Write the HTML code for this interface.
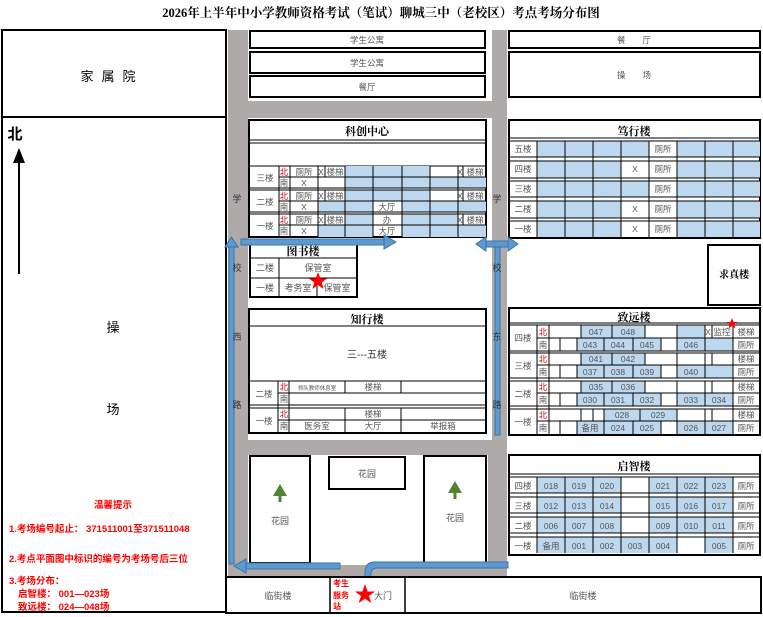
<!DOCTYPE html>
<html><head><meta charset="utf-8"><style>
body{margin:0;background:#fff}
svg{display:block}
text{font-family:"Liberation Sans","Noto Sans CJK SC",sans-serif}
.c{font-size:8.5px;fill:#555;text-anchor:middle}
.t{font-size:11px;font-weight:bold;fill:#000;text-anchor:middle;font-family:"Liberation Serif","Noto Serif CJK SC",serif}
.r{font-size:9.5px;fill:#f00;font-weight:bold}
.b{fill:#bdd7ee}
.ln{stroke:#000;stroke-width:1;fill:none}
.bx{stroke:#000;stroke-width:2;fill:#fff}
.ar{fill:#5b9bd5;stroke:#41719c;stroke-width:1}
</style></head><body>
<svg width="763" height="617" viewBox="0 0 763 617" xmlns="http://www.w3.org/2000/svg">
<rect width="763" height="617" fill="#fff"/>
<text x="381" y="17" class="t" style="font-size:12.5px">2026年上半年中小学教师资格考试（笔试）聊城三中（老校区）考点考场分布图</text>

<rect x="228" y="30" width="279" height="553" fill="#aeaaaa"/>
<rect x="248" y="30" width="244" height="71" fill="#fff"/>
<rect x="248" y="118" width="244" height="120" fill="#fff"/>
<rect x="248" y="238" width="244" height="202" fill="#fff"/>
<rect x="248" y="455" width="240" height="110" fill="#fff"/>

<rect x="2" y="30" width="224" height="582" fill="none" stroke="#000" stroke-width="2"/>
<line x1="2" y1="117" x2="226" y2="117" stroke="#000" stroke-width="2"/>
<text x="112" y="81" style="font-size:13px;text-anchor:middle;letter-spacing:8px">家属院</text>
<text x="15" y="139" style="font-size:15px;font-weight:bold;text-anchor:middle">北</text>
<line x1="19" y1="160" x2="19" y2="274" stroke="#000" stroke-width="2"/>
<polygon points="19,148 13,163 25,163" fill="#000"/>
<text x="113" y="332" style="font-size:13px;text-anchor:middle">操</text>
<text x="113" y="414" style="font-size:13px;text-anchor:middle">场</text>
<text x="113" y="508" class="r" text-anchor="middle">温馨提示</text>
<text x="9" y="532" class="r">1.考场编号起止：  371511001至371511048</text>
<text x="9" y="562" class="r">2.考点平面图中标识的编号为考场号后三位</text>
<text x="9" y="584" class="r">3.考场分布：</text>
<text x="18" y="597" class="r">启智楼： 001—023场</text>
<text x="18" y="610" class="r">致远楼： 024—048场</text>

<rect x="250" y="31" width="235" height="17" class="bx"/><text x="367" y="43" class="c">学生公寓</text>
<rect x="250" y="52" width="235" height="21" class="bx"/><text x="367" y="66" class="c">学生公寓</text>
<rect x="250" y="76" width="235" height="21" class="bx"/><text x="367" y="90" class="c">餐厅</text>
<rect x="509" y="31" width="251" height="17" class="bx"/><text x="634" y="43" class="c">餐　　厅</text>
<rect x="509" y="52" width="251" height="45" class="bx"/><text x="634" y="78" class="c">操　　场</text>

<g>
<rect x="249" y="120" width="237" height="117" class="bx"/>
<text x="367" y="135" class="t">科创中心</text>
<line x1="249" y1="140" x2="486" y2="140" class="ln"/><line x1="249" y1="143" x2="486" y2="143" class="ln"/>
<line x1="249" y1="166" x2="486" y2="166" class="ln"/>
<g class="b">
<rect x="345" y="166" width="85" height="11"/><rect x="345" y="177" width="141" height="11"/>
<rect x="345" y="190" width="85" height="11"/><rect x="318" y="201" width="55" height="11"/><rect x="402" y="201" width="84" height="11"/>
<rect x="345" y="214" width="28" height="11"/><rect x="402" y="214" width="56" height="11"/><rect x="318" y="225" width="55" height="12"/><rect x="402" y="225" width="84" height="12"/>
</g>
<g class="ln">
<line x1="249" y1="188" x2="486" y2="188"/><line x1="249" y1="190" x2="486" y2="190"/>
<line x1="249" y1="212" x2="486" y2="212"/><line x1="249" y1="214" x2="486" y2="214"/>
<line x1="279" y1="177" x2="486" y2="177"/><line x1="279" y1="201" x2="486" y2="201"/><line x1="279" y1="225" x2="486" y2="225"/>
<path d="M279 166V237M290 166V237M318 166V237M325 166V177M325 190V201M325 214V225M345 166V237M373 166V237M402 166V237M430 166V237M458 166V237M463 166V177M463 190V201M463 214V225"/>
</g>
<g class="c">
<text x="265" y="181">三楼</text><text x="265" y="205">二楼</text><text x="265" y="229">一楼</text>
<text x="284" y="175" fill="#c00">北</text><text x="284" y="186">南</text><text x="284" y="199" fill="#c00">北</text><text x="284" y="210">南</text><text x="284" y="223" fill="#c00">北</text><text x="284" y="234">南</text>
<text x="304" y="175">厕所</text><text x="321" y="175">X</text><text x="335" y="175">楼梯</text><text x="304" y="186">X</text><text x="460" y="175">X</text><text x="475" y="175">楼梯</text>
<text x="304" y="199">厕所</text><text x="321" y="199">X</text><text x="335" y="199">楼梯</text><text x="304" y="210">X</text><text x="460" y="199">X</text><text x="475" y="199">楼梯</text><text x="387" y="210">大厅</text>
<text x="304" y="223">厕所</text><text x="321" y="223">X</text><text x="335" y="223">楼梯</text><text x="304" y="234">X</text><text x="460" y="223">X</text><text x="475" y="223">楼梯</text><text x="387" y="223">办</text><text x="387" y="234">大厅</text>
</g>
</g>

<rect x="250" y="242" width="107" height="55" class="bx"/>
<text x="303" y="255" class="t">图书楼</text>
<g class="ln"><path d="M250 258H357M250 278H357M279 258V297M317 278V297"/></g>
<g class="c" style="font-size:9px"><text x="265" y="271">二楼</text><text x="265" y="291">一楼</text><text x="318" y="271">保管室</text><text x="298" y="291">考务室</text><text x="337" y="291">保管室</text></g>
<polygon points="318,272 320.4,278.5 327,278.5 321.7,282.5 323.6,289 318,285 312.4,289 314.3,282.5 309,278.5 315.6,278.5" fill="#f00"/>

<rect x="249" y="309" width="237" height="124" class="bx"/>
<text x="367" y="323" class="t">知行楼</text>
<line x1="249" y1="326" x2="486" y2="326" class="ln"/>
<text x="367" y="358" style="font-size:10px;fill:#333;text-anchor:middle">三---五楼</text>
<g class="ln"><path d="M249 381H486M278 393H486M249 405H486M249 408H486M278 420H486M278 381V432M289 381V432M345 381V393M401 381V393M345 408V432M401 408V432"/></g>
<g class="c"><text x="264" y="397">二楼</text><text x="264" y="424">一楼</text><text x="284" y="390" fill="#c00">北</text><text x="284" y="402">南</text><text x="284" y="417" fill="#c00">北</text><text x="284" y="429">南</text>
<text x="317" y="390" style="font-size:5.5px">领队教师休息室</text><text x="373" y="390">楼梯</text><text x="373" y="417">楼梯</text><text x="317" y="429">医务室</text><text x="373" y="429">大厅</text><text x="443" y="429">举报箱</text></g>

<rect x="509" y="120" width="251" height="118" class="bx"/>
<text x="634" y="135" class="t">笃行楼</text>
<g class="b">
<rect x="537" y="141" width="112" height="16"/><rect x="677" y="141" width="83" height="16"/>
<rect x="537" y="161" width="84" height="17"/><rect x="677" y="161" width="83" height="17"/>
<rect x="537" y="181" width="112" height="16"/><rect x="677" y="181" width="83" height="16"/>
<rect x="537" y="201" width="84" height="17"/><rect x="677" y="201" width="83" height="17"/>
<rect x="537" y="221" width="84" height="16"/><rect x="677" y="221" width="83" height="16"/>
</g>
<g class="ln"><path d="M509 138H760M509 141H760M509 157H760M509 161H760M509 178H760M509 181H760M509 197H760M509 201H760M509 218H760M509 221H760M537 141V237M565 141V237M593 141V237M621 141V237M649 141V237M677 141V237M705 141V237M733 141V237"/></g>
<g class="c"><text x="523" y="152">五楼</text><text x="523" y="172">四楼</text><text x="523" y="192">三楼</text><text x="523" y="212">二楼</text><text x="523" y="232">一楼</text>
<text x="663" y="152">厕所</text><text x="663" y="172">厕所</text><text x="663" y="192">厕所</text><text x="663" y="212">厕所</text><text x="663" y="232">厕所</text>
<text x="635" y="172">X</text><text x="635" y="212">X</text><text x="635" y="232">X</text></g>

<rect x="708" y="245" width="52" height="60" class="bx"/><text x="734" y="278" class="t" style="font-size:10px">求真楼</text>

<rect x="509" y="308" width="251" height="127" class="bx"/>
<text x="634" y="321" class="t">致远楼</text>
<g class="b">
<rect x="581" y="325" width="64" height="13"/><rect x="677" y="325" width="28" height="13"/><rect x="577" y="338" width="84" height="13"/><rect x="677" y="338" width="56" height="13"/>
<rect x="581" y="353" width="64" height="12"/><rect x="577" y="365" width="84" height="13"/><rect x="677" y="365" width="56" height="13"/>
<rect x="581" y="381" width="64" height="12"/><rect x="577" y="393" width="84" height="13"/><rect x="677" y="393" width="56" height="13"/>
<rect x="604" y="409" width="73" height="12"/><rect x="577" y="421" width="84" height="13"/><rect x="677" y="421" width="56" height="13"/>
</g>
<g class="ln"><path d="M509 323H760M509 325H760M537 338H760M509 351H760M509 353H760M537 365H760M509 378H760M509 381H760M537 393H760M509 406H760M509 409H760M537 421H760
M537 325V434M549 325V434M733 325V434
M581 325V338M612 325V338M645 325V338M677 325V338M705 325V338M712 325V338M560 338V351M577 338V351M604 338V351M633 338V351M661 338V351M677 338V351M705 338V351
M581 353V365M612 353V365M645 353V365M677 353V365M705 353V365M712 353V365M560 365V378M577 365V378M604 365V378M633 365V378M661 365V378M677 365V378M705 365V378
M581 381V393M612 381V393M645 381V393M677 381V393M705 381V393M712 381V393M560 393V406M577 393V406M604 393V406M633 393V406M661 393V406M677 393V406M705 393V406
M581 409V421M593 409V421M604 409V421M640 409V421M677 409V421M705 409V421M712 409V421M560 421V434M577 421V434M604 421V434M633 421V434M661 421V434M677 421V434M705 421V434"/></g>
<g class="c">
<text x="523" y="341">四楼</text><text x="523" y="369">三楼</text><text x="523" y="397">二楼</text><text x="523" y="425">一楼</text>
<text x="543" y="335" fill="#c00">北</text><text x="543" y="348">南</text><text x="543" y="362" fill="#c00">北</text><text x="543" y="375">南</text><text x="543" y="390" fill="#c00">北</text><text x="543" y="403">南</text><text x="543" y="418" fill="#c00">北</text><text x="543" y="431">南</text>
<text x="596" y="335">047</text><text x="628" y="335">048</text><text x="708" y="335">X</text><text x="722" y="335">监控</text><text x="746" y="335">楼梯</text>
<text x="590" y="348">043</text><text x="618" y="348">044</text><text x="647" y="348">045</text><text x="691" y="348">046</text><text x="746" y="348">厕所</text>
<text x="596" y="362">041</text><text x="628" y="362">042</text><text x="746" y="362">楼梯</text>
<text x="590" y="375">037</text><text x="618" y="375">038</text><text x="647" y="375">039</text><text x="691" y="375">040</text><text x="746" y="375">厕所</text>
<text x="596" y="390">035</text><text x="628" y="390">036</text><text x="746" y="390">楼梯</text>
<text x="590" y="403">030</text><text x="618" y="403">031</text><text x="647" y="403">032</text><text x="691" y="403">033</text><text x="719" y="403">034</text><text x="746" y="403">厕所</text>
<text x="622" y="418">028</text><text x="658" y="418">029</text><text x="746" y="418">楼梯</text>
<text x="590" y="431">备用</text><text x="618" y="431">024</text><text x="647" y="431">025</text><text x="691" y="431">026</text><text x="719" y="431">027</text><text x="746" y="431">厕所</text>
</g>
<polygon points="732,318 733.5,322 737.5,322 734.3,324.5 735.5,328.5 732,326 728.5,328.5 729.7,324.5 726.5,322 730.5,322" fill="#f00"/>

<rect x="509" y="455" width="251" height="100" class="bx"/>
<text x="634" y="470" class="t">启智楼</text>
<g class="b">
<rect x="537" y="477" width="84" height="16"/><rect x="649" y="477" width="84" height="16"/>
<rect x="537" y="497" width="84" height="16"/><rect x="649" y="497" width="84" height="16"/>
<rect x="537" y="517" width="84" height="16"/><rect x="649" y="517" width="84" height="16"/>
<rect x="537" y="537" width="140" height="16"/><rect x="705" y="537" width="28" height="16"/>
</g>
<g class="ln"><path d="M509 474H760M509 477H760M509 493H760M509 497H760M509 513H760M509 517H760M509 533H760M509 537H760M537 477V553M565 477V553M593 477V553M621 477V553M649 477V553M677 477V553M705 477V553M733 477V553"/></g>
<g class="c">
<text x="523" y="489">四楼</text><text x="523" y="509">三楼</text><text x="523" y="529">二楼</text><text x="523" y="549">一楼</text>
<text x="551" y="489">018</text><text x="579" y="489">019</text><text x="607" y="489">020</text><text x="663" y="489">021</text><text x="691" y="489">022</text><text x="719" y="489">023</text><text x="746" y="489">厕所</text>
<text x="551" y="509">012</text><text x="579" y="509">013</text><text x="607" y="509">014</text><text x="663" y="509">015</text><text x="691" y="509">016</text><text x="719" y="509">017</text><text x="746" y="509">厕所</text>
<text x="551" y="529">006</text><text x="579" y="529">007</text><text x="607" y="529">008</text><text x="663" y="529">009</text><text x="691" y="529">010</text><text x="719" y="529">011</text><text x="746" y="529">厕所</text>
<text x="551" y="549">备用</text><text x="579" y="549">001</text><text x="607" y="549">002</text><text x="635" y="549">003</text><text x="663" y="549">004</text><text x="719" y="549">005</text><text x="746" y="549">厕所</text>
</g>

<rect x="250" y="456" width="60" height="107" class="bx"/>
<rect x="329" y="457" width="76" height="32" class="bx"/>
<rect x="424" y="456" width="62" height="107" class="bx"/>
<g class="c" style="font-size:9px"><text x="280" y="524">花园</text><text x="367" y="477">花园</text><text x="455" y="521">花园</text></g>
<polygon points="280,484 273,496 287,496" fill="#548235"/><rect x="278.5" y="495" width="3" height="7" fill="#548235"/>
<polygon points="455,481 448,493 462,493" fill="#548235"/><rect x="453.5" y="492" width="3" height="7" fill="#548235"/>

<rect x="229" y="246" width="5" height="318" class="ar"/>
<polygon points="231.5,237 225,247 238,247" class="ar"/>
<rect x="241" y="239" width="143" height="6" class="ar"/>
<polygon points="384,235 396,242 384,249" class="ar"/>
<rect x="495" y="246" width="5" height="189" class="ar"/>
<polygon points="476,244 486,237 486,251 476,244" class="ar"/><rect x="486" y="241" width="22" height="6" class="ar"/><polygon points="518,244 508,237 508,251" class="ar"/>
<rect x="245" y="563" width="95" height="6" class="ar"/><polygon points="234,566 246,559 246,573" class="ar"/>
<path d="M365 578V572Q365 562 375 562H508V568H377Q371 568 371 574V578Z" class="ar"/>

<g style="font-size:9px;fill:#333;text-anchor:middle">
<text x="237" y="202">学</text><text x="237" y="271">校</text><text x="237" y="340">西</text><text x="237" y="408">路</text>
<text x="497" y="202">学</text><text x="497" y="271">校</text><text x="497" y="340">东</text><text x="497" y="408">路</text>
</g>

<rect x="226" y="577" width="535" height="36" fill="#fff" stroke="#000" stroke-width="2"/>
<line x1="330" y1="577" x2="330" y2="612" stroke="#000" stroke-width="1.5"/>
<line x1="405" y1="577" x2="405" y2="612" stroke="#000" stroke-width="1.5"/>
<text x="278" y="599" class="c" style="font-size:9px">临街楼</text>
<text x="583" y="599" class="c" style="font-size:9px">临街楼</text>
<text x="333" y="586" class="r" style="font-size:8px">考生</text>
<text x="333" y="598" class="r" style="font-size:8px">服务</text>
<text x="333" y="609" class="r" style="font-size:8px">站</text>
<polygon points="365,584 367.6,591.5 375,591.5 369,596 371.3,603 365,598.8 358.7,603 361,596 355,591.5 362.4,591.5" fill="#f00"/>
<text x="383" y="599" class="c" style="font-size:9px">大门</text>
</svg>
</body></html>
